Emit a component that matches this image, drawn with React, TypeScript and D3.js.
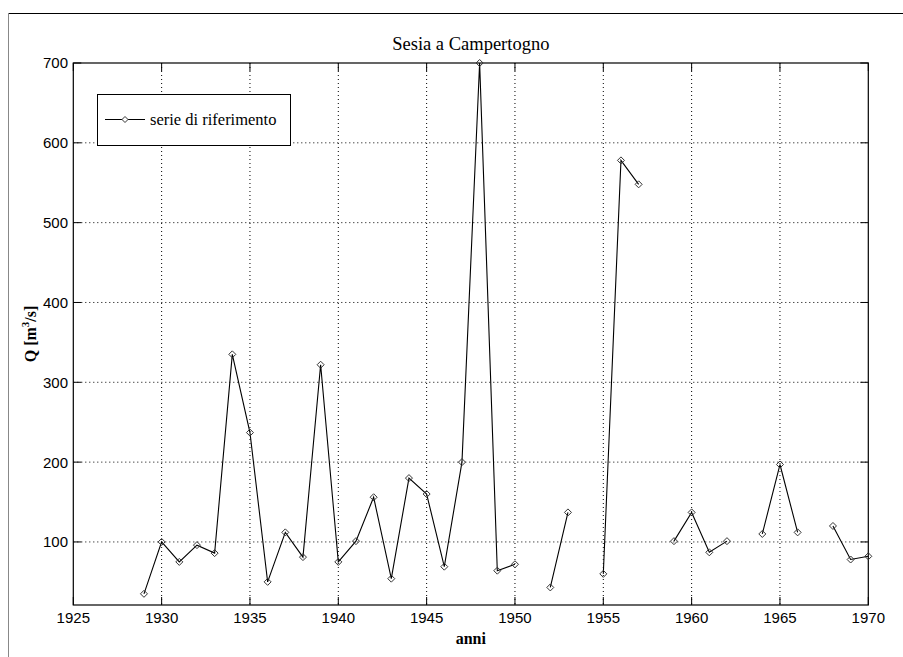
import React from "react";
import * as d3 from "d3";

const years: number[] = [1929,1930,1931,1932,1933,1934,1935,1936,1937,1938,1939,1940,1941,1942,1943,1944,1945,1946,1947,1948,1949,1950,1951,1952,1953,1954,1955,1956,1957,1958,1959,1960,1961,1962,1963,1964,1965,1966,1967,1968,1969,1970];
const discharge: (number | null)[] = [35,100,75,96,86,335,237,50,112,81,322,75,101,156,54,180,160,69,200,700,64,72,null,43,137,null,60,578,548,null,101,137,87,101,null,110,197,112,null,120,78,82];
const xTicks: number[] = [1925,1930,1935,1940,1945,1950,1955,1960,1965,1970];
const yTicks: number[] = [100,200,300,400,500,600,700];
const title = "Sesia a Campertogno";
const xLabel = "anni";
const legendLabel = "serie di riferimento";

const W = 903, H = 657;
const L = 73.3, R = 868.3, T = 63, B = 605;

export default function App() {
  const x = d3.scaleLinear().domain([1925, 1970]).range([L, R]);
  const y = d3.scaleLinear().domain([21, 700]).range([B, T]);
  const pts = years.map((yr, i) => ({ yr, v: discharge[i] }));
  const line = d3.line<{ yr: number; v: number | null }>()
    .defined(d => d.v !== null)
    .x(d => x(d.yr))
    .y(d => y(d.v as number));
  const serif = "'Liberation Serif', 'Times New Roman', serif";
  const sans = "'Liberation Sans', Arial, sans-serif";
  const tl = 8;
  const diamond = (cx: number, cy: number, r = 3.5) =>
    `M${cx},${cy - r}L${cx + r},${cy}L${cx},${cy + r}L${cx - r},${cy}Z`;

  return (
    <svg width={W} height={H} style={{ position: "absolute", left: 0, top: 0, background: "#fff" }}>
      <rect x={0} y={0} width={W} height={H} fill="#fff" />
      {/* figure frame */}
      <line x1={8} y1={13.5} x2={W} y2={13.5} stroke="#000" strokeWidth={1} />
      <line x1={8.5} y1={13} x2={8.5} y2={H} stroke="#888" strokeWidth={1} />
      {/* grid */}
      {xTicks.filter(t => t > 1925 && t < 1970).map(t => (
        <line key={"gx" + t} x1={x(t)} x2={x(t)} y1={T} y2={B} stroke="#000" strokeWidth={1} strokeDasharray="1,3" />
      ))}
      {yTicks.filter(t => t < 700).map(t => (
        <line key={"gy" + t} x1={L} x2={R} y1={y(t)} y2={y(t)} stroke="#000" strokeWidth={1} strokeDasharray="1,3" />
      ))}
      {/* ticks */}
      {xTicks.map(t => (
        <g key={"tx" + t}>
          <line x1={x(t)} x2={x(t)} y1={B} y2={B - tl} stroke="#000" />
          <line x1={x(t)} x2={x(t)} y1={T} y2={T + tl} stroke="#000" />
          <text x={x(t)} y={623} textAnchor="middle" fontFamily={sans} fontSize={15}>{t}</text>
        </g>
      ))}
      {yTicks.map(t => (
        <g key={"ty" + t}>
          <line x1={L} x2={L + tl} y1={y(t)} y2={y(t)} stroke="#000" />
          <line x1={R} x2={R - tl} y1={y(t)} y2={y(t)} stroke="#000" />
          <text x={68} y={y(t)} dy="0.36em" textAnchor="end" fontFamily={sans} fontSize={15}>{t}</text>
        </g>
      ))}
      {/* axes box */}
      <rect x={L} y={T} width={R - L} height={B - T} fill="none" stroke="#000" strokeWidth={1.2} />
      {/* data */}
      <path d={line(pts) || ""} fill="none" stroke="#000" strokeWidth={1.1} />
      {pts.filter(p => p.v !== null).map(p => (
        <path key={"m" + p.yr} d={diamond(x(p.yr), y(p.v as number))} fill="none" stroke="#333" strokeWidth={1} />
      ))}
      {/* legend */}
      <rect x={97.5} y={94.5} width={193} height={51} fill="#fff" stroke="#000" strokeWidth={1} />
      <line x1={105} x2={145} y1={119.5} y2={119.5} stroke="#000" />
      <path d={diamond(125, 119.5, 3)} fill="#fff" stroke="#333" />
      <text x={150} y={124.5} fontFamily={serif} fontSize={16.5}>{legendLabel}</text>
      {/* title & labels */}
      <text x={(L + R) / 2} y={50} textAnchor="middle" fontFamily={serif} fontSize={18.5}>{title}</text>
      <text x={(L + R) / 2} y={644} textAnchor="middle" fontFamily={serif} fontSize={16} fontWeight="bold">{xLabel}</text>
      <text transform={`translate(36,${(T + B) / 2}) rotate(-90)`} textAnchor="middle" fontFamily={serif} fontSize={16} fontWeight="bold">
        Q [m<tspan fontSize={11} dy={-7}>3</tspan><tspan dy={7}>/s]</tspan>
      </text>
    </svg>
  );
}
